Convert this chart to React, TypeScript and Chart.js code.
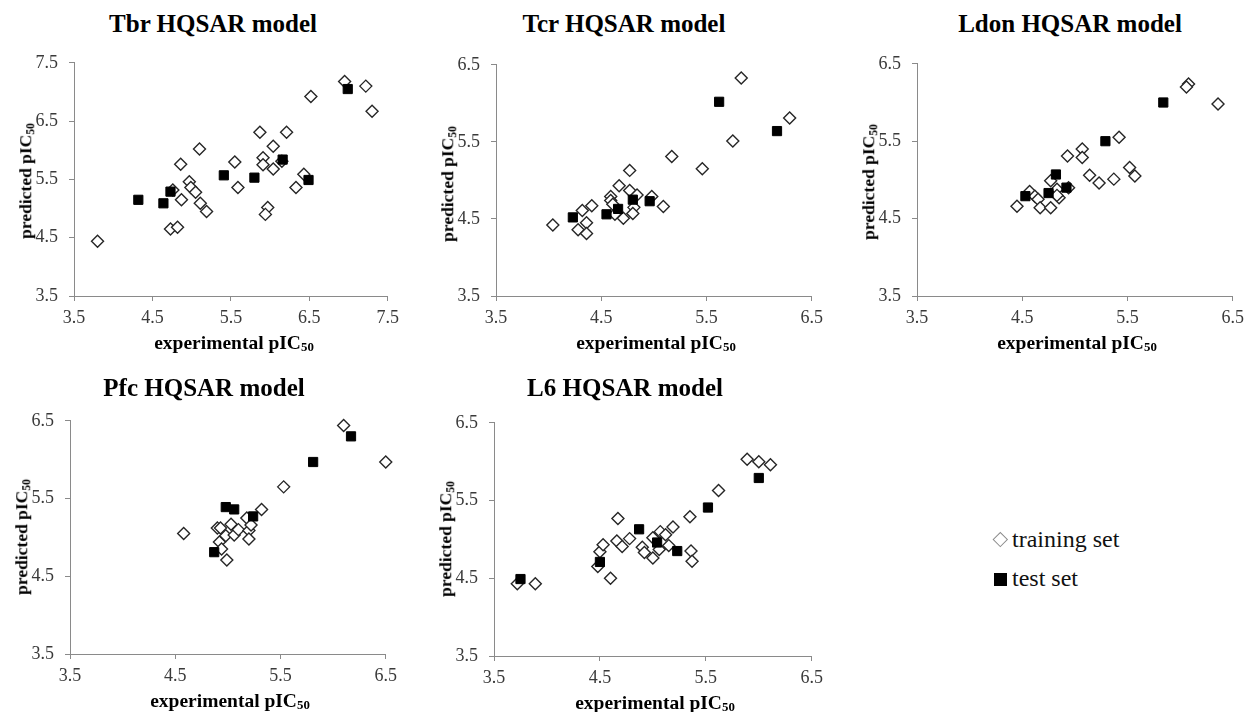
import React, { useEffect, useRef } from "react";
import { Chart, registerables } from "chart.js";

Chart.register(...registerables);
const CANVAS_FONT = "'Liberation Serif', 'Times New Roman', Times, serif";
Chart.defaults.font.family = CANVAS_FONT;

type Pt = [number, number];

// ---- data: [experimental pIC50, predicted pIC50] ----
const tbrTraining: Pt[] = [
  [3.8, 4.44], [6.95, 7.18], [7.22, 7.1], [7.3, 6.67], [6.52, 6.92], [5.87, 6.31],
  [6.21, 6.31], [5.1, 6.02], [6.04, 6.07], [4.86, 5.76], [5.55, 5.8], [5.91, 5.87],
  [5.91, 5.75], [6.04, 5.68], [6.15, 5.81], [6.43, 5.59], [6.33, 5.36], [5.59, 5.36],
  [4.97, 5.46], [4.99, 5.36], [5.05, 5.28], [4.76, 5.32], [4.87, 5.15], [5.11, 5.09],
  [5.19, 4.95], [5.97, 5.02], [5.94, 4.9], [4.73, 4.65], [4.82, 4.68],
];
const tbrTest: Pt[] = [
  [4.32, 5.15], [4.64, 5.09], [4.73, 5.29], [5.41, 5.57], [5.8, 5.53], [6.16, 5.84],
  [6.49, 5.49], [6.99, 7.05],
];

const tcrTraining: Pt[] = [
  [4.04, 4.42], [4.32, 4.61], [4.28, 4.36], [4.36, 4.45], [4.36, 4.31], [4.41, 4.67],
  [4.59, 4.79], [4.59, 4.74], [4.61, 4.69], [4.63, 4.56], [4.71, 4.51], [4.67, 4.93],
  [4.77, 5.13], [4.77, 4.87], [4.84, 4.81], [4.81, 4.65], [4.8, 4.57], [4.98, 4.79],
  [5.09, 4.66], [5.17, 5.31], [5.46, 5.15], [5.75, 5.51], [5.83, 6.33], [6.29, 5.81],
];
const tcrTest: Pt[] = [
  [4.23, 4.52], [4.55, 4.56], [4.66, 4.63], [4.8, 4.75], [4.96, 4.73], [5.62, 6.02],
  [6.17, 5.64],
];

const ldonTraining: Pt[] = [
  [4.45, 4.66], [4.57, 4.85], [4.62, 4.79], [4.65, 4.75], [4.67, 4.64], [4.77, 4.64],
  [4.77, 4.99], [4.83, 4.88], [4.85, 4.77], [4.83, 4.8], [4.93, 5.31], [4.94, 4.9],
  [5.07, 5.4], [5.07, 5.29], [5.14, 5.06], [5.23, 4.96], [5.37, 5.01], [5.42, 5.55],
  [5.52, 5.16], [5.57, 5.05], [6.08, 6.24], [6.06, 6.2], [6.36, 5.98],
];
const ldonTest: Pt[] = [
  [4.53, 4.79], [4.75, 4.83], [4.82, 5.07], [4.92, 4.9], [5.29, 5.5], [5.84, 6.0],
];

const pfcTraining: Pt[] = [
  [4.58, 5.05], [4.9, 5.12], [4.93, 5.12], [4.92, 4.94], [4.94, 4.85], [4.99, 4.71],
  [4.98, 5.02], [5.03, 5.17], [5.06, 5.03], [5.1, 5.1], [5.2, 5.09], [5.2, 4.98],
  [5.18, 5.25], [5.22, 5.16], [5.32, 5.36], [5.53, 5.65], [6.1, 6.44], [6.5, 5.97],
];
const pfcTest: Pt[] = [
  [4.87, 4.81], [4.98, 5.39], [5.06, 5.36], [5.24, 5.27], [5.81, 5.97], [6.17, 6.3],
];

const l6Training: Pt[] = [
  [3.72, 4.43], [3.89, 4.43], [4.48, 4.65], [4.5, 4.84], [4.53, 4.93], [4.6, 4.5],
  [4.67, 5.27], [4.66, 4.98], [4.71, 4.91], [4.78, 5.01], [4.9, 4.9], [4.92, 4.83],
  [5.0, 5.02], [5.0, 4.76], [5.06, 4.87], [5.07, 5.1], [5.12, 5.06], [5.15, 4.92],
  [5.19, 5.16], [5.35, 5.29], [5.36, 4.85], [5.37, 4.72], [5.62, 5.63], [5.89, 6.03],
  [6.0, 6.0], [6.11, 5.96],
];
const l6Test: Pt[] = [
  [3.75, 4.49], [4.5, 4.71], [4.87, 5.13], [5.04, 4.96], [5.23, 4.85], [5.52, 5.41],
  [6.0, 5.79],
];

const ticksWide = [3.5, 4.5, 5.5, 6.5, 7.5];
const ticksNarrow = [3.5, 4.5, 5.5, 6.5];

const panelTitles = [
  "Tbr HQSAR model",
  "Tcr HQSAR model",
  "Ldon HQSAR model",
  "Pfc HQSAR model",
  "L6 HQSAR model",
];
const xAxisTitle = "experimental pIC";
const yAxisTitle = "predicted pIC";
const subscript = "50";
const legendLabels = ["training set", "test set"];

// ---- layout (page pixel positions) ----
const FONT = "'Liberation Serif', 'Times New Roman', serif";
const Y_AXIS_W = 60;
const TOP_PAD = 20;
const X_AXIS_H = 40;
const RIGHT_PAD = 12;

interface Layout {
  l: number; t: number; r: number; b: number;
  titleX: number; titleBase: number;
  yLabX: number; yLabY: number;
  xLabX: number; xLabBase: number;
}

const layouts: Layout[] = [
  { l: 74, t: 61, r: 393, b: 296, titleX: 213, titleBase: 32, yLabX: 27, yLabY: 181, xLabX: 234, xLabBase: 349 },
  { l: 496, t: 63, r: 817, b: 296, titleX: 624, titleBase: 32, yLabX: 449, yLabY: 184, xLabX: 656, xLabBase: 349 },
  { l: 917, t: 62, r: 1238, b: 296, titleX: 1070, titleBase: 32, yLabX: 870, yLabY: 182, xLabX: 1077, xLabBase: 349 },
  { l: 70, t: 419, r: 391, b: 654, titleX: 204, titleBase: 396, yLabX: 23, yLabY: 537, xLabX: 230, xLabBase: 707 },
  { l: 494, t: 421, r: 817, b: 656, titleX: 625, titleBase: 396, yLabX: 447, yLabY: 539, xLabX: 655, xLabBase: 709 },
];

const panelData: { training: Pt[]; test: Pt[]; ticks: number[] }[] = [
  { training: tbrTraining, test: tbrTest, ticks: ticksWide },
  { training: tcrTraining, test: tcrTest, ticks: ticksNarrow },
  { training: ldonTraining, test: ldonTest, ticks: ticksNarrow },
  { training: pfcTraining, test: pfcTest, ticks: ticksNarrow },
  { training: l6Training, test: l6Test, ticks: ticksNarrow },
];

function BaselineText(props: {
  text: string; x: number; base: number; size: number; bold?: boolean; align?: "center" | "left";
  sub?: string; color?: string;
}) {
  const { text, x, base, size, bold, align = "center", sub, color = "#000" } = props;
  const top = base - 0.8375 * size;
  return (
    <div
      style={{
        position: "absolute",
        left: x,
        top,
        transform: align === "center" ? "translateX(-50%)" : undefined,
        fontFamily: FONT,
        fontSize: size,
        lineHeight: `${size}px`,
        fontWeight: bold ? "bold" : "normal",
        whiteSpace: "nowrap",
        color,
      }}
    >
      {text}
      {sub ? (
        <span style={{ fontSize: "0.66em", position: "relative", top: "0.22em" }}>{sub}</span>
      ) : null}
    </div>
  );
}

function RotatedLabel(props: { text: string; sub: string; cx: number; cy: number; size: number }) {
  const { text, sub, cx, cy, size } = props;
  return (
    <div
      style={{
        position: "absolute",
        left: cx,
        top: cy,
        transform: "translate(-50%, -50%) rotate(-90deg)",
        fontFamily: FONT,
        fontSize: size,
        lineHeight: `${size}px`,
        fontWeight: "bold",
        whiteSpace: "nowrap",
        color: "#000",
      }}
    >
      {text}
      <span style={{ fontSize: "0.66em", position: "relative", top: "0.22em" }}>{sub}</span>
    </div>
  );
}

function Panel({ index }: { index: number }) {
  const ref = useRef<HTMLCanvasElement | null>(null);
  const lay = layouts[index];
  const d = panelData[index];
  const width = lay.r - lay.l + Y_AXIS_W + RIGHT_PAD;
  const height = lay.b - lay.t + TOP_PAD + X_AXIS_H;

  useEffect(() => {
    if (!ref.current) return;
    const ticks = d.ticks;
    const axisColor = "#8a8a8a";
    const tickFont = { family: CANVAS_FONT, size: 18, weight: "normal" };
    const chart = new Chart(ref.current, {
      type: "scatter",
      data: {
        datasets: [
          {
            label: legendLabels[1],
            data: d.test.map(([x, y]) => ({ x, y })),
            pointStyle: "rect",
            pointRadius: 6.5,
            pointHoverRadius: 6.5,
            backgroundColor: "#000",
            borderColor: "#000",
            borderWidth: 1,
            order: 0,
            clip: false as any,
          },
          {
            label: legendLabels[0],
            data: d.training.map(([x, y]) => ({ x, y })),
            pointStyle: "rectRot",
            pointRadius: 6,
            pointHoverRadius: 6,
            backgroundColor: "#fff",
            borderColor: "#262626",
            borderWidth: 1.4,
            order: 1,
            clip: false as any,
          },
        ],
      },
      options: {
        responsive: false,
        animation: false,
        devicePixelRatio: 1,
        events: [],
        layout: { padding: { left: 0, top: TOP_PAD, right: RIGHT_PAD, bottom: 0 } },
        plugins: {
          legend: { display: false },
          tooltip: { enabled: false },
          title: { display: false },
        },
        scales: {
          x: {
            type: "linear",
            min: ticks[0],
            max: ticks[ticks.length - 1],
            afterBuildTicks: (s: any) => {
              s.ticks = ticks.map((v) => ({ value: v }));
            },
            afterFit: (s: any) => {
              s.height = X_AXIS_H;
            },
            grid: { display: true, drawOnChartArea: false, drawTicks: true, tickLength: 5, color: axisColor },
            border: { display: true, color: axisColor, width: 1 },
            ticks: {
              font: tickFont,
              color: "#3a3a3a",
              padding: 6,
              maxRotation: 0,
              autoSkip: false,
              callback: (v: any) => Number(v).toFixed(1),
            },
          },
          y: {
            type: "linear",
            min: ticks[0],
            max: ticks[ticks.length - 1],
            afterBuildTicks: (s: any) => {
              s.ticks = ticks.map((v) => ({ value: v }));
            },
            afterFit: (s: any) => {
              s.width = Y_AXIS_W;
            },
            grid: { display: true, drawOnChartArea: false, drawTicks: true, tickLength: 5, color: axisColor },
            border: { display: true, color: axisColor, width: 1 },
            ticks: {
              font: tickFont,
              color: "#3a3a3a",
              padding: 11,
              autoSkip: false,
              callback: (v: any) => Number(v).toFixed(1),
            },
          },
        },
      } as any,
    });
    return () => chart.destroy();
  }, []);

  return (
    <>
      <canvas
        ref={ref}
        width={width}
        height={height}
        style={{
          position: "absolute",
          left: lay.l - Y_AXIS_W,
          top: lay.t - TOP_PAD,
          width,
          height,
        }}
      />
      <BaselineText text={panelTitles[index]} x={lay.titleX} base={lay.titleBase} size={25} bold />
      <BaselineText text={xAxisTitle} sub={subscript} x={lay.xLabX} base={lay.xLabBase} size={19.5} bold />
      <RotatedLabel text={yAxisTitle} sub={subscript} cx={lay.yLabX} cy={lay.yLabY} size={17.5} />
    </>
  );
}

export default function App() {
  return (
    <div
      style={{
        position: "absolute",
        left: 0,
        top: 0,
        width: 1251,
        height: 712,
        overflow: "hidden",
        background: "#fff",
      }}
    >
      {layouts.map((_, i) => (
        <Panel key={i} index={i} />
      ))}
      {/* legend */}
      <div
        style={{
          position: "absolute",
          left: 1000 - 5.3,
          top: 539.5 - 5.3,
          width: 10.6,
          height: 10.6,
          boxSizing: "border-box",
          border: "1.5px solid #8c8c8c",
          background: "#fff",
          transform: "rotate(45deg)",
        }}
      />
      <div
        style={{
          position: "absolute",
          left: 1000 - 6.5,
          top: 579 - 6.5,
          width: 13,
          height: 13,
          background: "#000",
        }}
      />
      <BaselineText text={legendLabels[0]} x={1012} base={547} size={24} align="left" color="#111" />
      <BaselineText text={legendLabels[1]} x={1012} base={586} size={24} align="left" color="#111" />
    </div>
  );
}
